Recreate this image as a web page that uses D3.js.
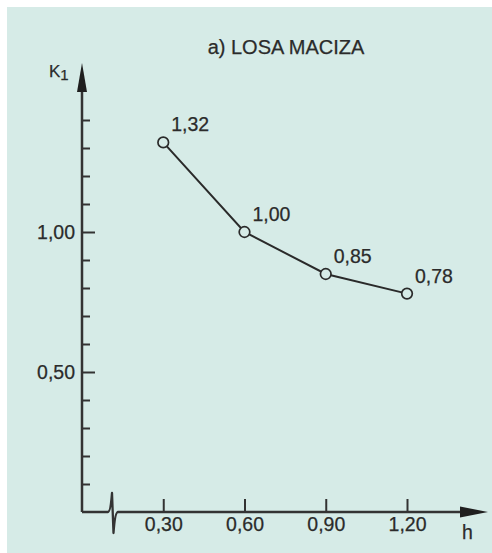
<!DOCTYPE html>
<html>
<head>
<meta charset="utf-8">
<script src="https://cdn.jsdelivr.net/npm/d3@7"></script>
<style>
  html, body { margin: 0; padding: 0; background: #ffffff; }
  svg { display: block; }
  text { font-family: "Liberation Sans", Arial, sans-serif; fill: #2b2b2b; stroke: #2b2b2b; stroke-width: 0.25px; }
</style>
</head>
<body>
<script>
// Coefficient K1 versus slab depth h (solid slab)
const title = "a) LOSA MACIZA";
const hValues = [0.30, 0.60, 0.90, 1.20];
const k1Values = [1.32, 1.00, 0.85, 0.78];
const pointLabels = ["1,32", "1,00", "0,85", "0,78"];
const xTickValues = [0.30, 0.60, 0.90, 1.20];
const xTickLabels = ["0,30", "0,60", "0,90", "1,20"];
const yMajorTicks = [0.50, 1.00];
const yMajorLabels = ["0,50", "1,00"];
const yMinorTicks = [0.1, 0.2, 0.3, 0.4, 0.6, 0.7, 0.8, 0.9, 1.1, 1.2, 1.3, 1.4];

const W = 492, H = 553;
const ink = "#333333";
const panel = "#d6ebe7";
const fontSize = 19.5;

const svg = d3.select("body").append("svg")
  .attr("width", W).attr("height", H);

svg.append("rect")
  .attr("x", 7).attr("y", 7)
  .attr("width", W - 7).attr("height", H - 7)
  .attr("fill", panel);

const x0 = 82, y0 = 512;
const x = d3.scaleLinear().domain([0, 1.2]).range([x0, 407]);
const y = d3.scaleLinear().domain([0, 1]).range([y0, 232]);

// Title
svg.append("text")
  .attr("x", 286).attr("y", 54)
  .attr("text-anchor", "middle")
  .attr("font-size", 20)
  .text(title);

// Y axis line with arrow
svg.append("line")
  .attr("x1", x0).attr("y1", y0)
  .attr("x2", x0).attr("y2", 88)
  .attr("stroke", ink).attr("stroke-width", 2.5);
svg.append("path")
  .attr("d", `M${x0},63 L${x0 + 5},92 L${x0 - 5},92 Z`)
  .attr("fill", "#1f1f1f");

// Y axis label K1
const kLabel = svg.append("text").attr("x", 49).attr("y", 77).attr("font-size", 17);
kLabel.append("tspan").text("K");
kLabel.append("tspan").attr("dy", 3).attr("font-size", 15).text("1");

// Minor y ticks
const yMinor = d3.axisLeft(y)
  .tickValues(yMinorTicks)
  .tickSizeInner(-8).tickSizeOuter(0)
  .tickFormat("");
const gYMinor = svg.append("g").attr("transform", `translate(${x0},0)`).call(yMinor);
gYMinor.select(".domain").remove();
gYMinor.selectAll(".tick line").attr("stroke", ink).attr("stroke-width", 2);

// Major y ticks with labels
const yMajor = d3.axisLeft(y)
  .tickValues(yMajorTicks)
  .tickSizeInner(-13).tickSizeOuter(0)
  .tickPadding(7)
  .tickFormat((d, i) => yMajorLabels[i]);
const gYMajor = svg.append("g").attr("transform", `translate(${x0},0)`).call(yMajor);
gYMajor.select(".domain").remove();
gYMajor.selectAll(".tick line").attr("stroke", ink).attr("stroke-width", 2);
gYMajor.selectAll(".tick text")
  .attr("font-size", fontSize).attr("font-family", "Liberation Sans, Arial, sans-serif")
  .attr("fill", "#2b2b2b");

// X axis line with break mark and arrow
svg.append("path")
  .attr("d", `M${x0},${y0} H108 Q110.5,${y0} 112,493 L113.5,533 Q115,${y0} 118,${y0} H466`)
  .attr("fill", "none").attr("stroke", ink).attr("stroke-width", 2.3)
  .attr("stroke-linejoin", "round");
svg.append("path")
  .attr("d", `M488,${y0} L460,${y0 - 5.5} L460,${y0 + 5.5} Z`)
  .attr("fill", "#1f1f1f");

// X ticks with labels
const xAxis = d3.axisBottom(x)
  .tickValues(xTickValues)
  .tickSizeInner(-13).tickSizeOuter(0)
  .tickPadding(5)
  .tickFormat((d, i) => xTickLabels[i]);
const gX = svg.append("g").attr("transform", `translate(0,${y0})`).call(xAxis);
gX.select(".domain").remove();
gX.selectAll(".tick line").attr("stroke", ink).attr("stroke-width", 2);
gX.selectAll(".tick text")
  .attr("font-size", fontSize).attr("font-family", "Liberation Sans, Arial, sans-serif")
  .attr("fill", "#2b2b2b");

// X axis label
svg.append("text")
  .attr("x", 462).attr("y", 539)
  .attr("font-size", fontSize)
  .text("h");

// Curve
const pts = hValues.map((h, i) => [h, k1Values[i]]);
svg.append("path")
  .datum(pts)
  .attr("d", d3.line().x(d => x(d[0])).y(d => y(d[1])))
  .attr("fill", "none").attr("stroke", "#2a2a2a").attr("stroke-width", 2);

svg.selectAll("circle.pt")
  .data(pts)
  .join("circle")
  .attr("class", "pt")
  .attr("cx", d => x(d[0])).attr("cy", d => y(d[1]))
  .attr("r", 5.3)
  .attr("fill", panel).attr("stroke", "#2a2a2a").attr("stroke-width", 1.7);

svg.selectAll("text.val")
  .data(pts)
  .join("text")
  .attr("class", "val")
  .attr("x", d => x(d[0]) + 8)
  .attr("y", d => y(d[1]) - 11)
  .attr("font-size", fontSize)
  .text((d, i) => pointLabels[i]);
</script>
</body>
</html>
